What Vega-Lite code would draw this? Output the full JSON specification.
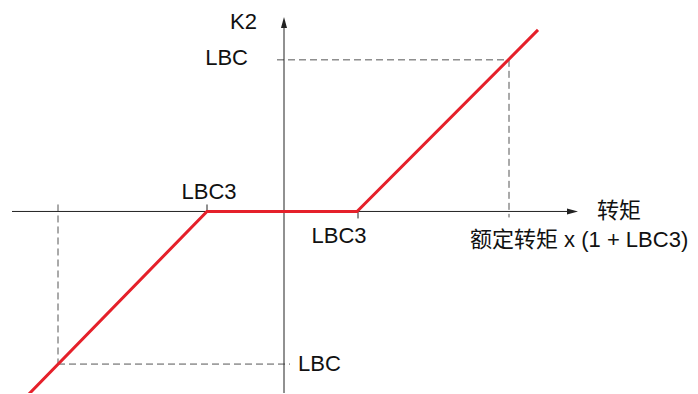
{
  "$schema": "https://vega.github.io/schema/vega-lite/v6.json",
  "width": 698,
  "height": 394,
  "autosize": {"type": "fit", "contains": "padding"},
  "padding": 0,
  "background": "white",
  "config": {"view": {"stroke": null}},
  "resolve": {"scale": {"x": "shared", "y": "shared"}},
  "layer": [
    {
      "data": {"values": [
        {"x": -7, "x2": 225, "y": 152, "y2": 152},
        {"x": 225, "x2": 225, "y": 152, "y2": -6},
        {"x": -226, "x2": -226, "y": 7, "y2": -153},
        {"x": -226, "x2": 6, "y": -153, "y2": -153}
      ]},
      "mark": {"type": "rule", "color": "#555555", "strokeWidth": 1, "strokeDash": [7, 4]},
      "encoding": {
        "x": {"field": "x", "type": "quantitative", "scale": {"domain": [-284, 414], "nice": false, "zero": false}, "axis": null},
        "x2": {"field": "x2"},
        "y": {"field": "y", "type": "quantitative", "scale": {"domain": [-182, 212], "nice": false, "zero": false}, "axis": null},
        "y2": {"field": "y2"}
      }
    },
    {
      "data": {"values": [
        {"x": -272, "x2": 290, "y": 0, "y2": 0},
        {"x": 0, "x2": 0, "y": -182, "y2": 190},
        {"x": -77, "x2": -77, "y": 0, "y2": 7},
        {"x": 74, "x2": 74, "y": 0, "y2": -7}
      ]},
      "mark": {"type": "rule", "color": "#222222", "strokeWidth": 1},
      "encoding": {
        "x": {"field": "x", "type": "quantitative"},
        "x2": {"field": "x2"},
        "y": {"field": "y", "type": "quantitative"},
        "y2": {"field": "y2"}
      }
    },
    {
      "data": {"values": [{"x": 0, "y": 189.5}]},
      "mark": {"type": "point", "shape": "M-0.55,1 L0,-1 L0.55,1 Z", "size": 121, "filled": true, "color": "#222222", "opacity": 1},
      "encoding": {
        "x": {"field": "x", "type": "quantitative"},
        "y": {"field": "y", "type": "quantitative"}
      }
    },
    {
      "data": {"values": [{"x": 288.5, "y": 0}]},
      "mark": {"type": "point", "shape": "M-1,-0.55 L1,0 L-1,0.55 Z", "size": 121, "filled": true, "color": "#222222", "opacity": 1},
      "encoding": {
        "x": {"field": "x", "type": "quantitative"},
        "y": {"field": "y", "type": "quantitative"}
      }
    },
    {
      "data": {"values": [
        {"x": -256, "y": -184, "o": 1},
        {"x": -77, "y": 0, "o": 2},
        {"x": 73, "y": 0, "o": 3},
        {"x": 254, "y": 182, "o": 4}
      ]},
      "mark": {"type": "line", "color": "#e5202a", "strokeWidth": 3, "clip": true},
      "encoding": {
        "x": {"field": "x", "type": "quantitative"},
        "y": {"field": "y", "type": "quantitative"},
        "order": {"field": "o"}
      }
    },
    {
      "data": {"values": [
        {"x": -27, "y": 190, "t": "K2"},
        {"x": -36, "y": 154, "t": "LBC"}
      ]},
      "mark": {"type": "text", "align": "right", "baseline": "middle", "font": "Liberation Sans, Noto Sans CJK SC", "fontSize": 22, "color": "#111111"},
      "encoding": {
        "x": {"field": "x", "type": "quantitative"},
        "y": {"field": "y", "type": "quantitative"},
        "text": {"field": "t"}
      }
    },
    {
      "data": {"values": [
        {"x": -75, "y": 20, "t": "LBC3"},
        {"x": 55, "y": -25, "t": "LBC3"}
      ]},
      "mark": {"type": "text", "align": "center", "baseline": "middle", "font": "Liberation Sans, Noto Sans CJK SC", "fontSize": 22, "color": "#111111"},
      "encoding": {
        "x": {"field": "x", "type": "quantitative"},
        "y": {"field": "y", "type": "quantitative"},
        "text": {"field": "t"}
      }
    },
    {
      "data": {"values": [
        {"x": 313, "y": 0, "t": "转矩"},
        {"x": 186, "y": -29, "t": "额定转矩 x (1 + LBC3)"},
        {"x": 14, "y": -153, "t": "LBC"}
      ]},
      "mark": {"type": "text", "align": "left", "baseline": "middle", "font": "Liberation Sans, Noto Sans CJK SC", "fontSize": 22, "color": "#111111"},
      "encoding": {
        "x": {"field": "x", "type": "quantitative"},
        "y": {"field": "y", "type": "quantitative"},
        "text": {"field": "t"}
      }
    }
  ]
}
